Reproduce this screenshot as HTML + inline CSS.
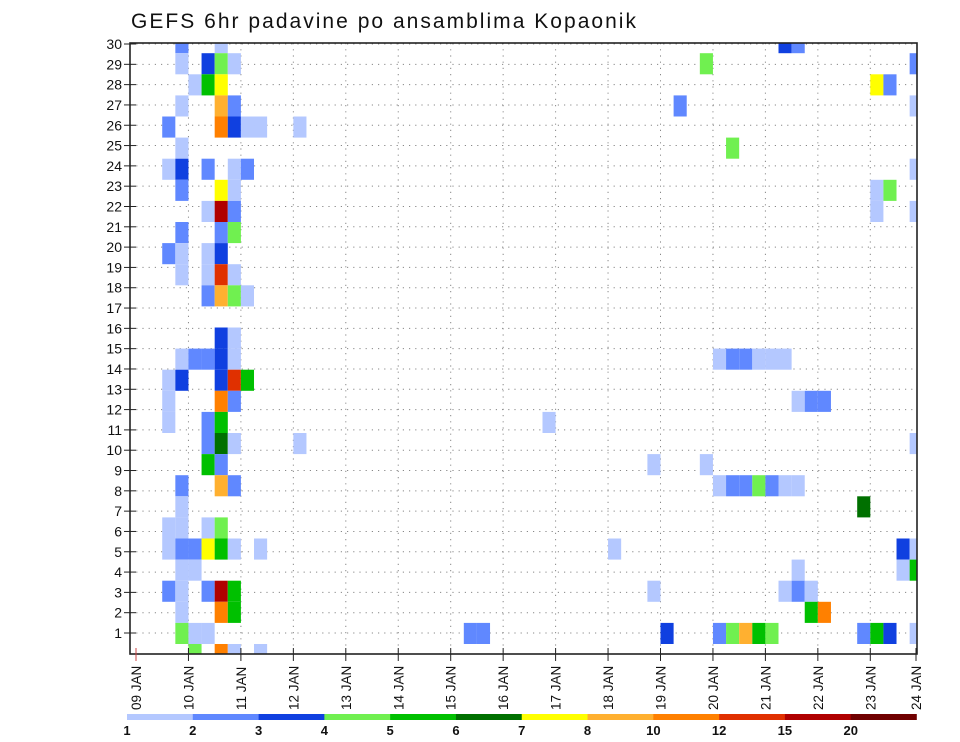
<!DOCTYPE html>
<html><head><meta charset="utf-8"><style>
html,body{margin:0;padding:0;background:#fff;}
svg{display:block;font-family:"Liberation Sans",sans-serif;}
</style></head><body>
<svg id="chart" width="960" height="742" viewBox="0 0 960 742">
<defs><clipPath id="plotclip"><rect x="130" y="43" width="787" height="611"/></clipPath></defs>
<text x="131" y="28" font-size="21" textLength="505" lengthAdjust="spacing" fill="#111">GEFS 6hr padavine po ansamblima Kopaonik</text>
<g id="grid"></g>
<g id="cells" clip-path="url(#plotclip)"></g>
<rect x="130" y="43" width="787" height="611" fill="none" stroke="#222" stroke-width="1.6"/>
<g id="yaxis"></g>
<g id="xaxis"></g>
<g id="legend"></g>
</svg>
<script>
// data: ensemble row index (0 = bottom), 6-hour step index (from 09 JAN 00z), precip mm
const rowIdx = [29,29,29,29, 28,28,28,28,28,28, 27,27,27,27,27, 26,26,26,26,26, 25,25,25,25,25,25, 24,24, 23,23,23,23,23,23, 22,22,22,22,22, 21,21,21,21,21, 20,20,20, 19,19,19,19, 18,18,18,18, 17,17,17,17, 15,15, 14,14,14,14,14,14,14,14,14,14,14, 13,13,13,13,13, 12,12,12,12,12,12, 11,11,11,11, 10,10,10,10,10, 9,9,9,9, 8,8,8,8,8,8,8,8,8,8, 7,7, 6,6,6,6, 5,5,5,5,5,5,5,5,5,5, 4,4,4,4,4, 3,3,3,3,3,3,3,3,3, 2,2,2,2,2, 1,1,1,1,1,1,1,1,1,1,1,1,1,1,1, 0,0,0,0];
const stepIdx = [3,6,49,50, 3,5,6,7,43,59, 4,5,6,56,57, 3,6,7,41,59, 2,6,7,8,9,12, 3,45, 2,3,5,7,8,59, 3,6,7,56,57, 5,6,7,56,59, 3,6,7, 2,3,5,6, 3,5,6,7, 5,6,7,8, 6,7, 3,4,5,6,7,44,45,46,47,48,49, 2,3,6,7,8, 2,6,7,50,51,52, 2,5,6,31, 5,6,7,12,59, 5,6,39,43, 3,6,7,44,45,46,47,48,49,50, 3,55, 2,3,5,6, 2,3,4,5,6,7,9,36,58,59, 3,4,50,58,59, 2,3,5,6,7,39,49,50,51, 3,6,7,51,52, 3,4,5,25,26,40,44,45,46,47,48,55,56,57,59, 4,6,7,9];
const precip = [2.5,1.5,3.5,2.5, 1.5,3.5,4.5,1.5,4.5,2.5, 1.5,5.5,7.5,7.5,2.5, 1.5,9,2.5,2.5,1.5, 2.5,11,3.5,1.5,1.5,1.5, 1.5,4.5, 1.5,3.5,2.5,1.5,2.5,1.5, 2.5,7.5,1.5,1.5,4.5, 1.5,17,2.5,1.5,1.5, 2.5,2.5,4.5, 2.5,1.5,1.5,3.5, 1.5,1.5,13.5,1.5, 2.5,9,4.5,1.5, 3.5,1.5, 1.5,2.5,2.5,3.5,1.5,1.5,2.5,2.5,1.5,1.5,1.5, 1.5,3.5,3.5,13.5,5.5, 1.5,11,2.5,1.5,2.5,2.5, 1.5,2.5,5.5,1.5, 2.5,6.5,1.5,1.5,1.5, 5.5,2.5,1.5,1.5, 2.5,9,2.5,1.5,2.5,2.5,4.5,2.5,1.5,1.5, 1.5,6.5, 1.5,1.5,1.5,4.5, 1.5,2.5,2.5,7.5,5.5,1.5,1.5,1.5,3.5,1.5, 1.5,1.5,1.5,1.5,5.5, 2.5,1.5,2.5,17,5.5,1.5,1.5,2.5,1.5, 1.5,11,5.5,5.5,11, 4.5,1.5,1.5,2.5,2.5,3.5,2.5,4.5,9,5.5,4.5,2.5,5.5,3.5,1.5, 4.5,11,1.5,1.5];
const levels = [1,2,3,4,5,6,7,8,10,12,15,20];
const levelColors = ["#b4c8ff","#6088ff","#1040e0","#70f050","#00c000","#007000","#ffff00","#ffb030","#ff8000","#e03000","#b00000","#700000"];
const dayLabels = ["09 JAN","10 JAN","11 JAN","12 JAN","13 JAN","14 JAN","15 JAN","16 JAN","17 JAN","18 JAN","19 JAN","20 JAN","21 JAN","22 JAN","23 JAN","24 JAN"];
const memberLabels = [1,2,3,4,5,6,7,8,9,10,11,12,13,14,15,16,17,18,19,20,21,22,23,24,25,26,27,28,29,30];

const NS = "http://www.w3.org/2000/svg";
const X0 = 136, DAY = 52.45, STEP = DAY/4;
const ROW_BOTTOM = 644, ROW_H = 21.1;
function xDay(d){ return X0 + d*DAY; }
function xStep(s){ return X0 + s*STEP; }
function yRow(r){ return ROW_BOTTOM - r*ROW_H; }
function yLabel(n){ return 633 - (n-1)*20.31; }
function colorFor(v){ let i=0; for(let j=0;j<levels.length;j++){ if(v>=levels[j]) i=j; } return levelColors[i]; }
function mk(tag, attrs, parent){ const e=document.createElementNS(NS,tag); for(const k in attrs) e.setAttribute(k, attrs[k]); parent.appendChild(e); return e; }

const grid = document.getElementById('grid');
memberLabels.forEach(n=>{
  const l = mk('line',{x1:130,x2:917,y1:yLabel(n),y2:yLabel(n),stroke:'#888','stroke-width':1,'stroke-dasharray':'1.2,5'},grid);
  
  
});
dayLabels.forEach((d,i)=>{
  if(i===0||i===dayLabels.length-1) return;
  const l = mk('line',{x1:xDay(i),x2:xDay(i),y1:43,y2:654,stroke:'#888','stroke-width':1,'stroke-dasharray':'1.2,5'},grid);
  
  
});

const cells = document.getElementById('cells');
for(let i=0;i<rowIdx.length;i++){
  const r = mk('rect',{x:xStep(stepIdx[i]).toFixed(2),y:yRow(rowIdx[i]).toFixed(2),width:STEP.toFixed(2),height:ROW_H,fill:colorFor(precip[i])},cells);
  
  
}

const yaxis = document.getElementById('yaxis');
memberLabels.forEach(n=>{
  const y = yLabel(n);
  const t = mk('line',{x1:124,x2:136,y1:y,y2:y,stroke:'#222','stroke-width':1},yaxis);
  
  
  const tx = mk('text',{x:122,y:y+5,'font-size':14,'text-anchor':'end',fill:'#111'},yaxis);
  tx.textContent = n;
  
  
});

const xaxis = document.getElementById('xaxis');
dayLabels.forEach((d,i)=>{
  const x = Math.min(xDay(i), 916);
  const t = mk('line',{x1:x,x2:x,y1:648,y2:661,stroke:i===0?'#c44':'#222','stroke-width':1},xaxis);
  
  
  const tx = mk('text',{x:0,y:0,'font-size':13.5,fill:'#111',transform:`translate(${x+5},710) rotate(-90)`},xaxis);
  tx.textContent = d;
  
  
});

const legend = document.getElementById('legend');
const LX0 = 127, LW = (916.5-127)/levels.length;
levelColors.forEach((c,i)=>{
  const r = mk('rect',{x:LX0+i*LW,y:714,width:LW+0.3,height:6,fill:c},legend);
  
  
});
levels.forEach((v,i)=>{
  const tx = mk('text',{x:LX0+i*LW,y:735,'font-size':13,'font-weight':'bold','text-anchor':'middle',fill:'#111'},legend);
  tx.textContent = v;
  
  
});
</script>
</body></html>
